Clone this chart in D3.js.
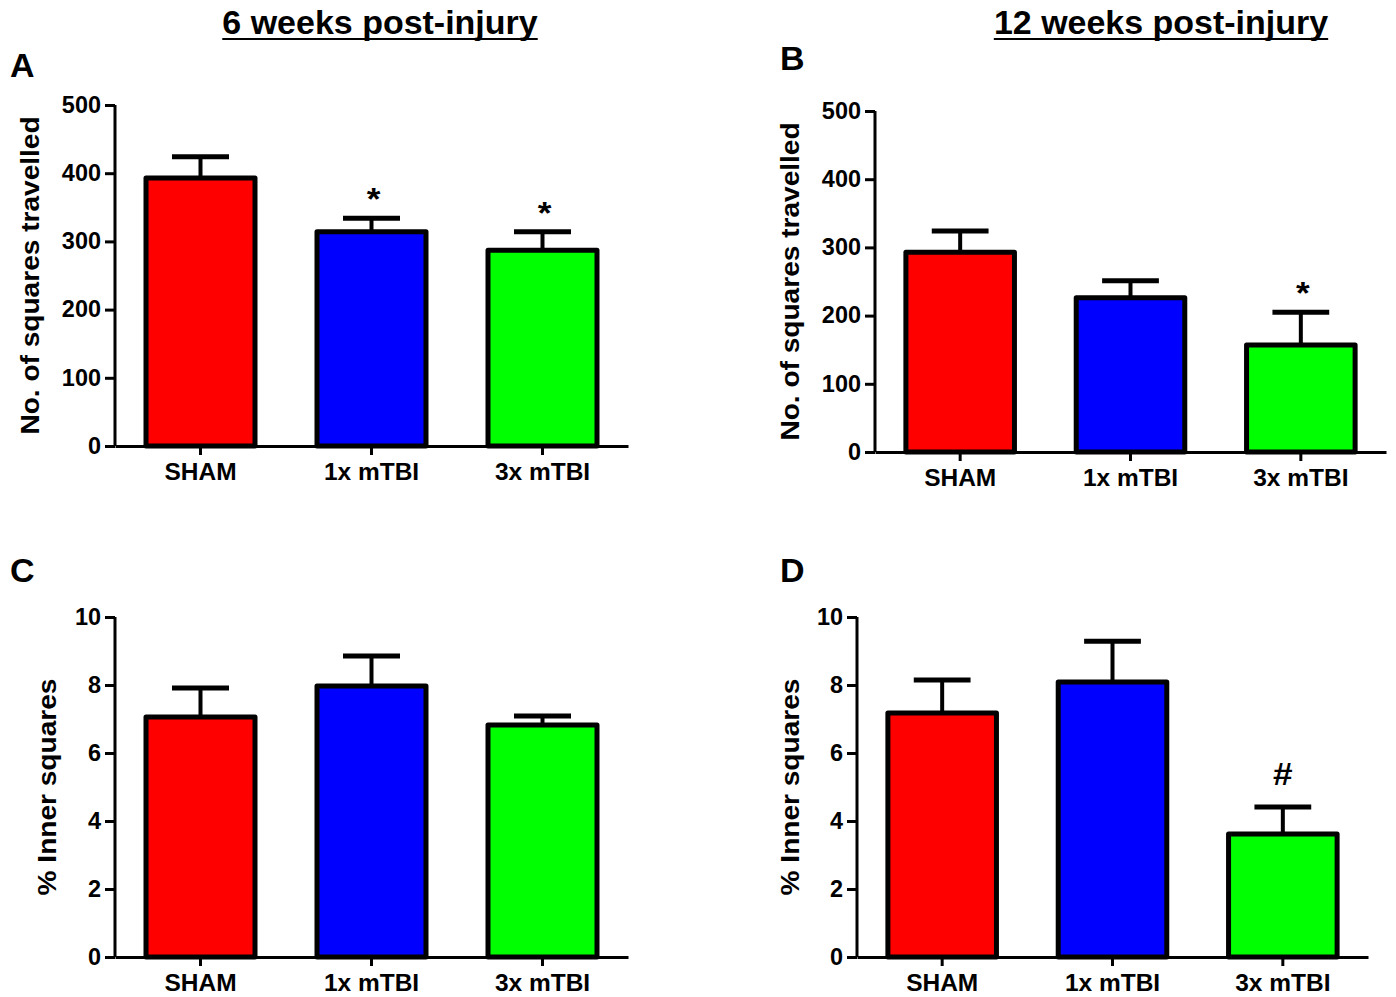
<!DOCTYPE html>
<html>
<head>
<meta charset="utf-8">
<script src="https://cdn.jsdelivr.net/npm/d3@7"></script>
<style>
  body { margin: 0; background: #fff; }
  svg { font-family: "Liberation Sans", Arial, sans-serif; font-weight: bold; }
  .axis path, .axis line { stroke: #000; stroke-width: 3; }
  .axis text { font-weight: bold; fill: #000; }
</style>
</head>
<body>
<script>
const width = 1396;
const height = 997;

const groups = ["SHAM", "1x mTBI", "3x mTBI"];
const colors = ["#ff0000", "#0000ff", "#00ff00"];

// panel A: 6 weeks, squares travelled
const squares6 = [393, 314, 287];
const squares6Err = [31, 20, 27];
const squares6Marks = ["", "*", "*"];

// panel B: 12 weeks, squares travelled
const squares12 = [293, 226, 157];
const squares12Err = [31, 25, 48];
const squares12Marks = ["", "", "*"];

// panel C: 6 weeks, % inner squares
const inner6 = [7.06, 7.97, 6.82];
const inner6Err = [0.85, 0.88, 0.27];
const inner6Marks = ["", "", ""];

// panel D: 12 weeks, % inner squares
const inner12 = [7.18, 8.09, 3.62];
const inner12Err = [0.97, 1.2, 0.79];
const inner12Marks = ["", "", "#"];

const squaresTicks = [0, 100, 200, 300, 400, 500];
const innerTicks = [0, 2, 4, 6, 8, 10];

const svg = d3.select("body").append("svg")
  .attr("width", width)
  .attr("height", height);

// move x/y into a transform so the glyphs can be widened a little
function widen(sel, sx, rotate) {
  sel.each(function () {
    const t = d3.select(this);
    const x = +t.attr("x") || 0;
    const y = +t.attr("y") || 0;
    t.attr("x", null).attr("y", null)
      .attr("transform", `translate(${x},${y})${rotate ? " rotate(-90)" : ""} scale(${sx},1)`);
  });
}

function drawPanel(cfg) {
  const g = svg.append("g");

  const x = d3.scaleBand()
    .domain(groups)
    .range([cfg.left, cfg.right])
    .paddingInner(1 / 3)
    .paddingOuter(1 / 6);

  const y = d3.scaleLinear()
    .domain([0, cfg.max])
    .range([cfg.bottom, cfg.top]);

  const rows = groups.map((name, i) => ({
    name,
    value: cfg.values[i],
    err: cfg.errs[i],
    mark: cfg.marks[i],
    color: colors[i],
  }));

  // error bars first so the bar outline covers the stem base
  const bw = x.bandwidth();
  g.selectAll(".stem")
    .data(rows)
    .join("line")
    .attr("x1", (d) => x(d.name) + bw / 2)
    .attr("x2", (d) => x(d.name) + bw / 2)
    .attr("y1", (d) => y(d.value))
    .attr("y2", (d) => y(d.value + d.err))
    .attr("stroke", "#000")
    .attr("stroke-width", 4);

  g.selectAll(".cap")
    .data(rows)
    .join("line")
    .attr("x1", (d) => x(d.name) + bw / 4)
    .attr("x2", (d) => x(d.name) + bw * 3 / 4)
    .attr("y1", (d) => y(d.value + d.err))
    .attr("y2", (d) => y(d.value + d.err))
    .attr("stroke", "#000")
    .attr("stroke-width", 5);

  g.selectAll(".bar")
    .data(rows)
    .join("rect")
    .attr("x", (d) => x(d.name) + 2.5)
    .attr("width", bw - 5)
    .attr("y", (d) => y(d.value))
    .attr("height", (d) => y(0) - y(d.value))
    .attr("fill", (d) => d.color)
    .attr("stroke", "#000")
    .attr("stroke-width", 5)
    .attr("stroke-linejoin", "round");

  // significance marks sit just above the error cap
  g.selectAll(".mark")
    .data(rows.filter((d) => d.mark))
    .join("text")
    .attr("x", (d) => x(d.name) + bw / 2 + (d.mark === "*" ? 2 : 0))
    .attr("y", (d) => y(d.value + d.err) - (d.mark === "*" ? 8 : 22))
    .attr("text-anchor", "middle")
    .attr("font-size", 32)
    .text((d) => d.mark)
    .call(widen, 1.1);

  g.append("g")
    .attr("class", "axis")
    .attr("transform", `translate(${cfg.left},0)`)
    .call(d3.axisLeft(y).tickValues(cfg.ticks).tickSize(10).tickSizeOuter(0).tickPadding(4))
    .call((a) => a.select(".domain").attr("d", `M0,${cfg.bottom}V${cfg.top}`))
    .call((a) => a.selectAll("text").attr("font-size", 23).call(widen, 1.02));

  g.append("g")
    .attr("class", "axis")
    .attr("transform", `translate(0,${cfg.bottom})`)
    .call(d3.axisBottom(x).tickSize(9).tickSizeOuter(0).tickPadding(8))
    .call((a) => a.selectAll("text").attr("font-size", 24).call(widen, 1.02));

  g.append("text")
    .attr("x", cfg.titleX)
    .attr("y", (cfg.top + cfg.bottom) / 2)
    .attr("text-anchor", "middle")
    .attr("font-size", 26)
    .attr("dy", "0.35em")
    .text(cfg.yLabel)
    .call(widen, 1.08, true);

  g.append("text")
    .attr("x", cfg.letterX)
    .attr("y", cfg.letterY)
    .attr("font-size", 34)
    .text(cfg.letter)
    .call(widen, 1.0);
}

drawPanel({
  letter: "A", letterX: 10, letterY: 77,
  left: 115, right: 628, top: 105, bottom: 446, max: 500,
  values: squares6, errs: squares6Err, marks: squares6Marks,
  ticks: squaresTicks, yLabel: "No. of squares travelled", titleX: 30,
});

drawPanel({
  letter: "B", letterX: 780, letterY: 70,
  left: 875, right: 1386, top: 111, bottom: 452, max: 500,
  values: squares12, errs: squares12Err, marks: squares12Marks,
  ticks: squaresTicks, yLabel: "No. of squares travelled", titleX: 790,
});

drawPanel({
  letter: "C", letterX: 10, letterY: 582,
  left: 115, right: 628, top: 617, bottom: 957, max: 10,
  values: inner6, errs: inner6Err, marks: inner6Marks,
  ticks: innerTicks, yLabel: "% Inner squares", titleX: 47,
});

drawPanel({
  letter: "D", letterX: 780, letterY: 582,
  left: 857, right: 1368, top: 617, bottom: 957, max: 10,
  values: inner12, errs: inner12Err, marks: inner12Marks,
  ticks: innerTicks, yLabel: "% Inner squares", titleX: 790,
});

// column headings, underlined
const headings = [
  { text: "6 weeks post-injury", x: 380 },
  { text: "12 weeks post-injury", x: 1161 },
];
headings.forEach((h) => {
  const t = svg.append("text")
    .attr("x", h.x)
    .attr("y", 34)
    .attr("text-anchor", "middle")
    .attr("font-size", 33)
    .text(h.text);
  const w = t.node().getComputedTextLength() * 1.03;
  t.call(widen, 1.03);
  svg.append("line")
    .attr("x1", h.x - w / 2)
    .attr("x2", h.x + w / 2)
    .attr("y1", 39)
    .attr("y2", 39)
    .attr("stroke", "#000")
    .attr("stroke-width", 2);
});
</script>
</body>
</html>
